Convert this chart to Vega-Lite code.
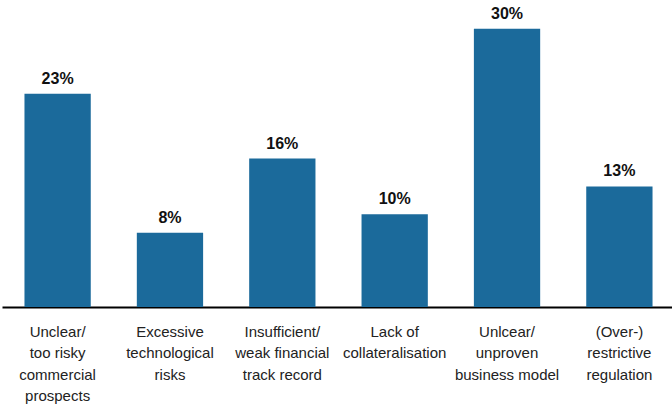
{
  "$schema": "https://vega.github.io/schema/vega-lite/v6.json",
  "width": 673,
  "height": 307,
  "autosize": {"type": "none"},
  "padding": {"left": 2, "top": 0, "right": 0, "bottom": 103},
  "config": {"view": {"stroke": null}, "font": "Liberation Sans"},
  "data": {
    "values": [
      {"cat": "Unclear/|too risky|commercial|prospects", "v": 0.23},
      {"cat": "Excessive|technological|risks", "v": 0.08},
      {"cat": "Insufficient/|weak financial|track record", "v": 0.16},
      {"cat": "Lack of|collateralisation", "v": 0.10},
      {"cat": "Unlcear/|unproven|business model", "v": 0.30},
      {"cat": "(Over-)|restrictive|regulation", "v": 0.13}
    ]
  },
  "encoding": {
    "x": {
      "field": "cat",
      "type": "nominal",
      "sort": null,
      "scale": {"paddingInner": 0.41, "paddingOuter": 0.2},
      "axis": {
        "title": null,
        "labelAngle": 0,
        "labelExpr": "split(datum.value, '|')",
        "labelFontSize": 15,
        "labelLineHeight": 21.5,
        "labelPadding": 17,
        "labelColor": "#222222",
        "ticks": false,
        "domainColor": "#000000",
        "domainWidth": 2,
        "labelLimit": 200
      }
    },
    "y": {
      "field": "v",
      "type": "quantitative",
      "scale": {"domain": [0, 0.331]},
      "axis": null
    }
  },
  "layer": [
    {"mark": {"type": "bar", "color": "#1b6a9b"}},
    {
      "mark": {"type": "text", "dy": -7, "baseline": "bottom", "fontWeight": "bold", "fontSize": 16, "color": "#111111"},
      "encoding": {"text": {"field": "v", "type": "quantitative", "format": ".0%"}}
    }
  ]
}
